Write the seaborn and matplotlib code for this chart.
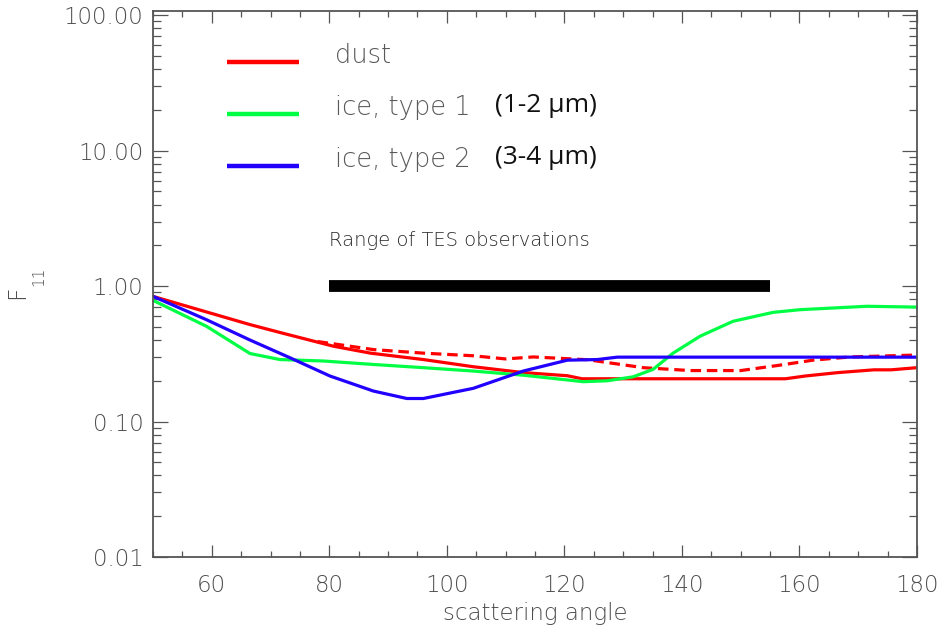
import numpy as np
import pandas as pd
import matplotlib
matplotlib.use("Agg")
import matplotlib.pyplot as plt
from matplotlib.ticker import MultipleLocator, LogLocator, FormatStrFormatter, NullFormatter
import seaborn as sns

# Phase function F11 versus scattering angle
angle_dust = [50, 66.5, 72, 80.7, 87, 96, 104.5, 113, 120.5, 123, 133, 145, 157.6, 161, 166.6, 172.7, 175.6, 180]
f11_dust = [0.84, 0.52, 0.45, 0.36, 0.32, 0.287, 0.254, 0.23, 0.218, 0.207, 0.207, 0.207, 0.207, 0.217, 0.23, 0.241, 0.241, 0.25]

angle_dust_alt = [78, 87.5, 96, 104.5, 110, 114.7, 124, 133.4, 141.4, 150, 156.7, 162.3, 168.6, 180]
f11_dust_alt = [0.39, 0.34, 0.32, 0.306, 0.29, 0.30, 0.286, 0.25, 0.238, 0.238, 0.261, 0.284, 0.30, 0.31]

angle_ice1 = [50, 59.1, 66.5, 71.6, 79, 87.5, 96, 104.5, 113, 123.2, 127.3, 131.7, 135.1, 138.5, 143.1, 148.7, 155.5, 160.1, 171.5, 180]
f11_ice1 = [0.785, 0.505, 0.318, 0.287, 0.28, 0.264, 0.25, 0.236, 0.22, 0.197, 0.2, 0.214, 0.243, 0.32, 0.427, 0.55, 0.64, 0.67, 0.71, 0.70]

angle_ice2 = [50, 59.1, 66.5, 73.3, 80.1, 87.5, 93.2, 96, 104.5, 113, 120.5, 125.6, 129, 180]
f11_ice2 = [0.84, 0.565, 0.40, 0.296, 0.217, 0.168, 0.148, 0.148, 0.176, 0.236, 0.284, 0.287, 0.299, 0.299]

tes_angles = [80, 155]
tes_level = [1.0, 1.0]

series_labels = ["dust", "ice, type 1", "ice, type 2"]
size_labels = ["", "(1-2 µm)", "(3-4 µm)"]
series_colors = ["#ff0000", "#00ff44", "#2200ff"]

sns.set_theme(style="ticks")
plt.rcParams["font.family"] = ["DejaVu Sans"]

W, H = 942, 635
fig = plt.figure(figsize=(W / 100, H / 100), dpi=100)
ax = fig.add_axes([153 / W, 1 - 557 / H, (917 - 153) / W, (557 - 11) / H])

axis_gray = "#555555"
text_gray = "#4e4e4e"
lw = 2.3

sns.lineplot(x=angle_dust, y=f11_dust, ax=ax, color=series_colors[0], lw=lw,
             sort=False, estimator=None)
sns.lineplot(x=angle_dust_alt, y=f11_dust_alt, ax=ax, color=series_colors[0], lw=lw,
             sort=False, estimator=None).lines[-1].set_dashes((3.3, 1.8))
sns.lineplot(x=angle_ice1, y=f11_ice1, ax=ax, color=series_colors[1], lw=lw,
             sort=False, estimator=None)
sns.lineplot(x=angle_ice2, y=f11_ice2, ax=ax, color=series_colors[2], lw=lw,
             sort=False, estimator=None)

# observation range bar
ax.plot(tes_angles, tes_level, color="black", lw=8.5, solid_capstyle="butt")
ax.text(80, 1.97, "Range of TES observations", fontsize=14, color="#2a2a2a",
        ha="left", va="baseline", fontweight="light")

ax.set_yscale("log")
ax.set_xlim(50, 180)
ax.set_ylim(0.01, 107.5)

ax.xaxis.set_major_locator(MultipleLocator(20))
ax.xaxis.set_minor_locator(MultipleLocator(5))
ax.yaxis.set_major_locator(LogLocator(base=10))
ax.yaxis.set_minor_locator(LogLocator(base=10, subs=np.arange(2, 10)))
ax.yaxis.set_major_formatter(FormatStrFormatter("%.2f"))
ax.yaxis.set_minor_formatter(NullFormatter())

ax.tick_params(axis="both", which="both", direction="in", top=True, right=True,
               colors=axis_gray, labelcolor=text_gray, width=0.9, labelsize=16.5)
ax.tick_params(axis="y", which="major", length=11, pad=7)
ax.tick_params(axis="y", which="minor", length=5.5)
ax.tick_params(axis="x", which="major", length=8.5, pad=12.5)
ax.tick_params(axis="x", which="minor", length=4.3)
for lbl in ax.get_xticklabels() + ax.get_yticklabels():
    lbl.set_fontweight("light")
for s in ax.spines.values():
    s.set_color(axis_gray)
    s.set_linewidth(1.3)

ax.set_xlabel("scattering angle", fontsize=16.5, color=text_gray, labelpad=3,
              fontweight="light")
ax.set_ylabel("")

# y-axis label F with subscript 11
fig.text(29 / W, 1 - 292 / H, "F", rotation=90, fontsize=17, color=text_gray,
         ha="right", va="center", fontweight="light")
fig.text(31 / W, 1 - 276 / H, "11", rotation=90, fontsize=11, color=text_gray,
         ha="left", va="center", fontweight="light")

# legend keys
key_x = [227, 299]
key_y = [62, 114, 166]
for lab, sz, col, ky in zip(series_labels, size_labels, series_colors, key_y):
    fig.add_artist(plt.Line2D([key_x[0] / W, key_x[1] / W], [1 - ky / H, 1 - ky / H],
                              color=col, lw=3.2, solid_capstyle="butt"))
    fig.text(335 / W, 1 - (ky + 1) / H, lab, fontsize=18.5, color="#5a5a5a",
             ha="left", va="baseline", fontweight="light")
    if sz:
        fig.text(495 / W, 1 - (ky - 2) / H, sz, fontsize=19, color="#111111",
                 family=["Open Sans", "DejaVu Sans"], fontweight="normal",
                 ha="left", va="baseline")

fig.savefig("out.png", dpi=100, facecolor="white")
